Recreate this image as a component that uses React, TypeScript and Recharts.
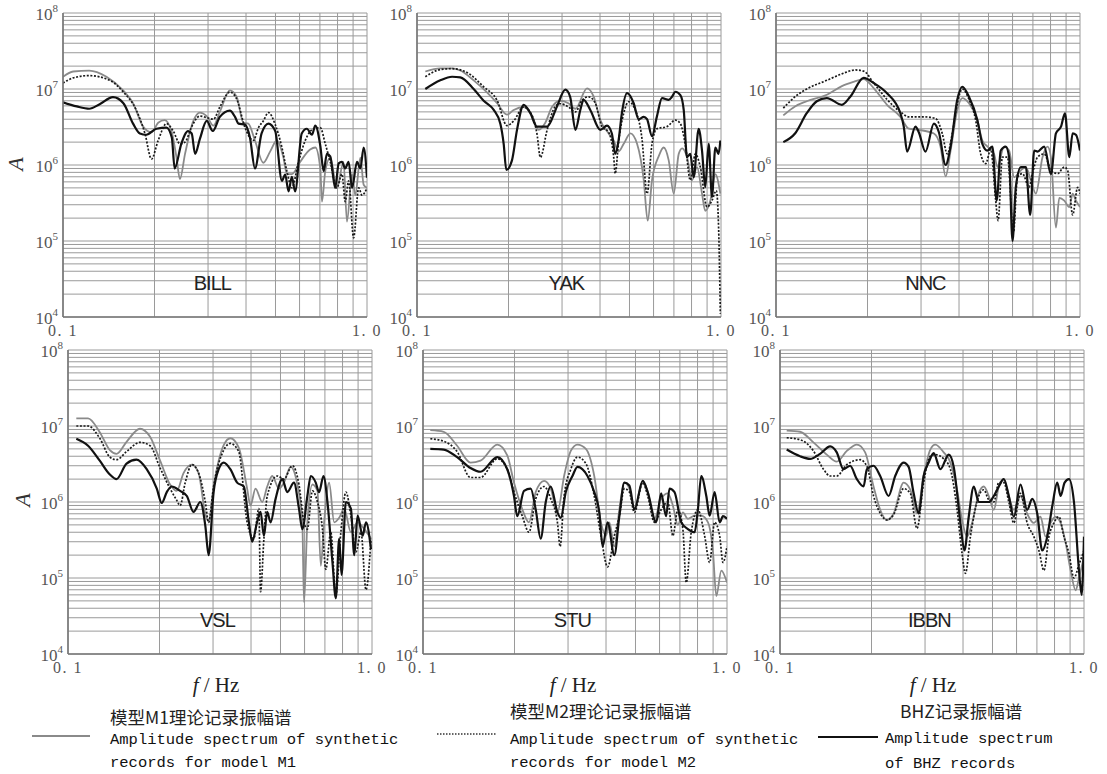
import React from 'react';
import { LineChart, Line, XAxis, YAxis, CartesianGrid, ReferenceDot } from 'recharts';

type Pt = [number, number];

// ---------- axis values ----------
const X_TICKS = [0.1, 0.2, 0.3, 0.4, 0.5, 0.6, 0.7, 0.8, 0.9, 1.0];
const MANTISSAS = [1, 2, 3, 4, 5, 6, 7, 8, 9];
const DECADES = [1e4, 1e5, 1e6, 1e7];
const Y_TICKS = [...DECADES.flatMap((d) => MANTISSAS.map((m) => m * d)), 1e8];
const X_DOMAIN: [number, number] = [0.1, 1.0];
const Y_DOMAIN: [number, number] = [1e4, 1e8];

// ---------- series: [frequency Hz, amplitude] ----------
const BILL_M1: Pt[] = [[0.1,1.45e7],[0.108,1.7e7],[0.122,1.75e7],[0.139,1.45e7],[0.158,9.5e6],[0.17,6.5e6],[0.1835,3.2e6],[0.1955,2.7e6],[0.2056,3.6e6],[0.216,3.9e6],[0.228,2.7e6],[0.2363,1.25e6],[0.2425,6.5e5],[0.252,1.4e6],[0.2684,3.8e6],[0.282,4.9e6],[0.297,4.4e6],[0.3125,3.3e6],[0.328,5.0e6],[0.354,9.6e6],[0.3726,7.9e6],[0.392,3.6e6],[0.407,3.5e6],[0.428,2.1e6],[0.456,1.07e6],[0.48,1.5e6],[0.505,2.1e6],[0.531,1.25e6],[0.545,7.6e5],[0.566,7.6e5],[0.6025,1.1e6],[0.65,1.6e6],[0.676,1.7e6],[0.702,9.0e5],[0.711,3.3e5],[0.729,8.3e5],[0.757,1.25e6],[0.796,5.0e5],[0.8375,1.1e6],[0.859,1.8e5],[0.893,7.6e5],[0.915,4.0e5],[0.951,1.25e6],[0.975,5.5e5],[1.0,5.0e5]];
const BILL_M2: Pt[] = [[0.1,1.2e7],[0.108,1.4e7],[0.122,1.5e7],[0.1425,1.3e7],[0.158,9.1e6],[0.1745,5.2e6],[0.186,2.6e6],[0.1955,1.2e6],[0.2056,2.1e6],[0.219,3.5e6],[0.2305,2.8e6],[0.2425,1.9e6],[0.252,2.0e6],[0.265,3.2e6],[0.282,4.4e6],[0.297,4.2e6],[0.3125,4.0e6],[0.328,5.8e6],[0.354,9.1e6],[0.3726,7.4e6],[0.397,3.1e6],[0.423,2.1e6],[0.4395,3.1e6],[0.456,3.8e6],[0.474,4.9e6],[0.499,3.4e6],[0.525,1.7e6],[0.545,8.3e5],[0.566,5.0e5],[0.5952,1.1e6],[0.6264,2.1e6],[0.667,3.0e6],[0.702,3.1e6],[0.729,1.9e6],[0.757,1.1e6],[0.796,5.0e5],[0.827,7.6e5],[0.848,3.3e5],[0.87,6.2e5],[0.9035,1.1e5],[0.939,5.0e5],[0.963,4.0e5],[1.0,5.0e5]];
const BILL_BHZ: Pt[] = [[0.1,6.7e6],[0.111,5.9e6],[0.122,5.5e6],[0.132,6.3e6],[0.146,7.8e6],[0.158,6.5e6],[0.17,3.5e6],[0.179,2.6e6],[0.188,2.5e6],[0.203,3.0e6],[0.219,3.1e6],[0.228,2.3e6],[0.233,9.0e5],[0.245,1.9e6],[0.258,2.8e6],[0.265,2.6e6],[0.272,1.4e6],[0.282,2.2e6],[0.297,3.8e6],[0.311,2.8e6],[0.328,4.3e6],[0.354,5.2e6],[0.368,4.3e6],[0.378,3.5e6],[0.397,3.4e6],[0.412,2.3e6],[0.428,9.0e5],[0.45,2.6e6],[0.474,3.5e6],[0.499,2.8e6],[0.525,6.2e5],[0.538,7.5e5],[0.552,4.5e5],[0.566,7.0e5],[0.58,4.5e5],[0.61,2.6e6],[0.634,3.0e6],[0.659,2.5e6],[0.676,3.3e6],[0.702,1.8e6],[0.72,8.3e5],[0.738,1.4e6],[0.757,1.3e6],[0.786,5.0e5],[0.807,1.05e6],[0.827,1.1e6],[0.848,9.0e5],[0.87,1.1e6],[0.893,5.0e5],[0.927,1.1e6],[0.951,9.0e5],[0.975,1.7e6],[1.0,6.8e5]];

const YAK_M1: Pt[] = [[0.1065,1.7e7],[0.1193,1.87e7],[0.1304,1.87e7],[0.1388,1.75e7],[0.1536,1.3e7],[0.1699,9.0e6],[0.1834,6.5e6],[0.1977,4.6e6],[0.208,5.3e6],[0.2243,5.8e6],[0.2389,4.5e6],[0.2512,2.9e6],[0.2643,3.6e6],[0.278,5.8e6],[0.296,7.0e6],[0.3148,6.5e6],[0.332,5.5e6],[0.3625,1.02e7],[0.381,8.0e6],[0.4009,3.9e6],[0.427,2.6e6],[0.4436,2.1e6],[0.4603,1.5e6],[0.4786,1.9e6],[0.5035,2.6e6],[0.5295,1.9e6],[0.557,6.3e5],[0.574,1.85e5],[0.593,6.3e5],[0.6237,1.3e6],[0.6476,1.7e6],[0.673,1.15e6],[0.699,4.2e5],[0.726,1.4e6],[0.745,1.65e6],[0.773,1.27e6],[0.803,6.3e5],[0.834,9.4e5],[0.866,4.2e5],[0.8875,2.5e5],[0.9226,3.4e5],[0.958,7.6e5],[0.995,4.2e5]];
const YAK_M2: Pt[] = [[0.1065,1.45e7],[0.1193,1.8e7],[0.1304,1.85e7],[0.146,1.65e7],[0.1657,1.07e7],[0.1834,7.1e6],[0.1977,3.3e6],[0.208,3.8e6],[0.2243,5.8e6],[0.2389,4.5e6],[0.248,2.6e6],[0.2546,1.26e6],[0.268,2.9e6],[0.285,5.9e6],[0.296,6.4e6],[0.3148,5.8e6],[0.332,5.0e6],[0.349,7.1e6],[0.367,7.9e6],[0.386,6.5e6],[0.406,3.2e6],[0.427,2.7e6],[0.4436,1.27e6],[0.4487,7.7e5],[0.4603,2.0e6],[0.4786,4.8e6],[0.497,6.8e6],[0.5225,5.3e6],[0.5497,2.2e6],[0.571,4.2e5],[0.593,1.9e6],[0.615,3.0e6],[0.664,3.2e6],[0.708,3.9e6],[0.735,3.5e6],[0.764,1.8e6],[0.7925,6.3e5],[0.8235,1.4e6],[0.855,9.4e5],[0.8995,2.8e5],[0.934,3.4e5],[0.965,4.6e5],[0.982,1.5e5],[0.995,1.1e4]];
const YAK_BHZ: Pt[] = [[0.1065,1.0e7],[0.1193,1.3e7],[0.1304,1.45e7],[0.1388,1.42e7],[0.1536,1.0e7],[0.1657,7.0e6],[0.1788,5.3e6],[0.188,3.5e6],[0.1928,1.9e6],[0.1967,8.6e5],[0.2053,1.15e6],[0.2133,2.9e6],[0.2243,6.2e6],[0.236,4.8e6],[0.248,3.2e6],[0.268,3.2e6],[0.2887,5.9e6],[0.3076,9.8e6],[0.319,7.9e6],[0.332,2.9e6],[0.3445,5.3e6],[0.3532,7.2e6],[0.3716,5.3e6],[0.4009,2.9e6],[0.4217,3.3e6],[0.4375,2.6e6],[0.4487,1.4e6],[0.4603,2.1e6],[0.472,4.8e6],[0.491,8.8e6],[0.516,6.5e6],[0.536,4.0e6],[0.557,4.3e6],[0.571,4.0e6],[0.593,2.4e6],[0.615,4.3e6],[0.6397,7.6e6],[0.673,7.2e6],[0.69,7.9e6],[0.708,9.2e6],[0.735,8.3e6],[0.754,5.3e6],[0.773,1.27e6],[0.7925,1.4e6],[0.813,6.9e5],[0.8444,3.0e6],[0.866,1.55e6],[0.8875,5.1e5],[0.911,1.9e6],[0.934,3.8e5],[0.958,1.7e6],[0.9818,1.4e6],[0.995,2.1e6]];

const NNC_M1: Pt[] = [[0.1057,4.5e6],[0.1155,5.9e6],[0.1262,6.9e6],[0.147,8.4e6],[0.1647,1.09e7],[0.18,1.24e7],[0.1942,1.35e7],[0.2095,1.03e7],[0.2318,6.2e6],[0.2566,4.3e6],[0.2734,3.0e6],[0.2949,2.9e6],[0.3306,2.6e6],[0.3476,1.75e6],[0.3613,7.1e5],[0.3753,1.55e6],[0.3947,5.3e6],[0.4101,7.6e6],[0.4313,6.5e6],[0.4595,3.9e6],[0.4773,2.1e6],[0.4958,1.75e6],[0.5214,1.4e6],[0.535,9.4e5],[0.5627,1.75e6],[0.5846,1.55e6],[0.6072,6.9e5],[0.6388,8.5e5],[0.6635,9.4e5],[0.6892,6.3e5],[0.7158,4.2e5],[0.753,1.27e6],[0.7822,1.75e6],[0.8023,1.27e6],[0.8333,1.5e5],[0.8549,3.7e5],[0.8879,3.4e5],[0.9222,2.8e5],[0.9458,4.2e5],[0.97,3.4e5],[1.0,2.8e5]];
const NNC_M2: Pt[] = [[0.1057,5.6e6],[0.1155,7.9e6],[0.1262,1.0e7],[0.147,1.3e7],[0.1647,1.58e7],[0.1823,1.78e7],[0.1942,1.72e7],[0.2095,1.2e7],[0.2318,7.3e6],[0.2566,5.0e6],[0.2734,4.3e6],[0.3063,4.3e6],[0.3348,4.1e6],[0.3523,2.6e6],[0.3659,1.4e6],[0.3801,2.6e6],[0.3947,6.4e6],[0.4101,1.0e7],[0.4313,7.3e6],[0.4537,3.9e6],[0.4713,1.4e6],[0.4895,1.04e6],[0.5085,1.6e6],[0.5281,3.4e5],[0.5376,1.85e5],[0.5555,1.27e6],[0.5773,1.27e6],[0.6041,1.3e5],[0.6227,6.9e5],[0.6468,7.7e5],[0.6803,5.1e5],[0.6977,7.7e5],[0.7251,1.27e6],[0.7627,1.4e6],[0.8023,8.5e5],[0.844,7.7e5],[0.8879,9.4e5],[0.9105,8.5e5],[0.9458,2.2e5],[0.9824,5.1e5],[1.0,4.2e5]];
const NNC_BHZ: Pt[] = [[0.1057,2.0e6],[0.1155,2.6e6],[0.1262,4.8e6],[0.1362,6.9e6],[0.147,7.6e6],[0.1647,6.2e6],[0.1755,7.9e6],[0.1942,1.4e7],[0.2095,1.2e7],[0.2318,8.8e6],[0.2566,4.8e6],[0.2632,3.2e6],[0.27,1.5e6],[0.2876,3.2e6],[0.2949,2.7e6],[0.3102,1.5e6],[0.3306,3.5e6],[0.3434,2.7e6],[0.3613,1.0e6],[0.3753,1.75e6],[0.3947,7.2e6],[0.4101,1.07e7],[0.4313,7.9e6],[0.4595,3.9e6],[0.4773,1.9e6],[0.4958,1.55e6],[0.5149,1.75e6],[0.532,3.4e5],[0.5486,1.55e6],[0.57,1.75e6],[0.5846,1.27e6],[0.5996,1.0e5],[0.615,5.1e5],[0.6388,9.4e5],[0.6635,9.4e5],[0.6857,2.2e5],[0.7069,1.55e6],[0.7251,1.5e6],[0.7627,1.75e6],[0.8023,7.6e5],[0.8333,2.6e6],[0.8658,3.2e6],[0.8924,4.8e6],[0.9222,1.27e6],[0.9458,2.6e6],[0.97,2.5e6],[1.0,1.55e6]];

const VSL_M1: Pt[] = [[0.1065,1.26e7],[0.1164,1.26e7],[0.1272,8.3e6],[0.1373,4.8e6],[0.1444,4.3e6],[0.1558,6.2e6],[0.1725,9.2e6],[0.1862,7.2e6],[0.2009,3.5e6],[0.2167,1.7e6],[0.228,1.4e6],[0.2399,2.4e6],[0.2556,3.1e6],[0.2689,2.4e6],[0.2829,7.0e5],[0.2901,5.5e5],[0.3013,1.6e6],[0.3252,5.6e6],[0.342,6.9e6],[0.3645,5.2e6],[0.3884,1.5e6],[0.3984,9.0e5],[0.4138,1.5e6],[0.4353,1.0e6],[0.4522,1.6e6],[0.4697,2.2e6],[0.4941,1.5e6],[0.5132,1.8e6],[0.5399,2.9e6],[0.5679,1.7e6],[0.59,5.4e5],[0.5975,4.8e4],[0.6129,5.4e5],[0.6368,1.7e6],[0.6615,1.4e6],[0.6785,1.45e5],[0.6959,5.4e5],[0.7228,1.8e6],[0.7508,5.4e5],[0.7799,6.2e5],[0.8101,8.2e5],[0.8522,4.0e5],[0.8967,5.4e5],[0.9434,4.4e5],[0.9924,3.3e5]];
const VSL_M2: Pt[] = [[0.1065,1.0e7],[0.1164,1.0e7],[0.1272,6.9e6],[0.1373,3.9e6],[0.1444,3.6e6],[0.1558,4.6e6],[0.1725,6.1e6],[0.1862,5.5e6],[0.2009,2.8e6],[0.2167,1.5e6],[0.228,1.05e6],[0.2338,9.0e5],[0.243,1.8e6],[0.2556,3.1e6],[0.2689,2.4e6],[0.2829,1.0e6],[0.2901,5.4e5],[0.3013,1.6e6],[0.3252,4.8e6],[0.342,5.9e6],[0.3645,4.6e6],[0.3884,5.4e5],[0.4085,3.3e5],[0.4244,8.2e5],[0.4299,6.6e4],[0.441,3.3e5],[0.4522,1.2e6],[0.4879,2.2e6],[0.5132,2.0e6],[0.547,3.0e6],[0.5751,1.7e6],[0.5975,5.4e5],[0.6129,4.4e5],[0.6368,1.4e6],[0.6615,1.0e6],[0.6871,4.4e5],[0.7047,1.3e5],[0.7319,4.0e5],[0.7603,6.0e4],[0.7899,4.0e5],[0.8206,1.35e6],[0.8522,6.6e5],[0.8855,2.2e5],[0.9198,4.0e5],[0.9555,7.0e4],[0.9924,3.3e5]];
const VSL_BHZ: Pt[] = [[0.1065,6.8e6],[0.1164,5.5e6],[0.1272,3.5e6],[0.1373,2.3e6],[0.1444,2.0e6],[0.1558,3.2e6],[0.1679,3.6e6],[0.1815,2.7e6],[0.1959,1.5e6],[0.2034,9.7e5],[0.2113,1.35e6],[0.2194,1.6e6],[0.2338,1.4e6],[0.246,1.2e6],[0.2588,7.4e5],[0.2723,1.0e6],[0.2829,4.9e5],[0.2901,2.0e5],[0.3013,1.35e6],[0.3131,2.7e6],[0.3252,3.3e6],[0.342,2.7e6],[0.36,1.8e6],[0.3787,1.6e6],[0.3933,5.5e5],[0.4034,3.0e5],[0.4191,5.5e5],[0.4299,7.4e5],[0.441,3.6e5],[0.4522,7.4e5],[0.4638,5.4e5],[0.4818,1.1e6],[0.5068,2.0e6],[0.5264,1.35e6],[0.5538,1.8e6],[0.5751,8.2e5],[0.59,4.4e5],[0.6129,1.2e6],[0.6289,2.2e6],[0.6531,1.8e6],[0.6699,1.35e6],[0.6925,2.2e6],[0.7137,1.0e6],[0.7413,1.6e5],[0.7603,5.4e4],[0.7799,3.3e5],[0.794,1.1e5],[0.8206,1.0e6],[0.8522,8.2e5],[0.8744,2.0e5],[0.8967,6.6e5],[0.9315,3.6e5],[0.9555,5.4e5],[0.9924,2.4e5]];

const STU_M1: Pt[] = [[0.1057,8.8e6],[0.117,8.4e6],[0.1295,5.5e6],[0.1433,3.3e6],[0.1546,3.5e6],[0.1755,5.7e6],[0.1893,4.1e6],[0.1992,1.8e6],[0.2122,8.0e5],[0.2232,5.4e5],[0.2348,1.35e6],[0.2502,1.9e6],[0.2632,1.5e6],[0.2768,7.3e5],[0.2912,2.2e6],[0.3063,4.7e6],[0.3222,5.7e6],[0.3434,5.0e6],[0.3659,2.2e6],[0.3849,5.4e5],[0.3998,3.6e5],[0.4101,5.4e5],[0.426,2.6e5],[0.4425,8.0e5],[0.4595,1.8e6],[0.4773,1.5e6],[0.4958,8.0e5],[0.5283,1.9e6],[0.5486,1.35e6],[0.5773,6.0e5],[0.6072,1.1e6],[0.6388,1.3e6],[0.6635,9.0e5],[0.6892,5.0e5],[0.7158,7.3e5],[0.7437,6.0e5],[0.7822,6.6e5],[0.8227,6.6e5],[0.8658,5.4e5],[0.8993,2.2e5],[0.9222,5.8e4],[0.9579,1.25e5],[1.0,8.7e4]];
const STU_M2: Pt[] = [[0.1057,6.8e6],[0.117,6.3e6],[0.1295,4.6e6],[0.1433,2.1e6],[0.1546,2.1e6],[0.1755,3.7e6],[0.1893,2.7e6],[0.1992,1.35e6],[0.2122,6.5e5],[0.2232,4.0e5],[0.2348,1.1e6],[0.2502,1.6e6],[0.2632,1.1e6],[0.2768,5.4e5],[0.2825,2.6e5],[0.2912,1.2e6],[0.3063,2.7e6],[0.3222,3.9e6],[0.3434,3.2e6],[0.3659,1.2e6],[0.3849,3.6e5],[0.4048,1.4e5],[0.426,3.6e5],[0.4425,6.5e5],[0.4595,1.5e6],[0.4773,1.35e6],[0.4958,7.3e5],[0.5283,1.8e6],[0.5486,1.2e6],[0.5773,5.4e5],[0.6072,7.9e5],[0.6388,1.0e6],[0.6635,3.6e5],[0.6892,7.9e5],[0.7158,4.4e5],[0.7344,8.7e4],[0.7627,4.0e5],[0.8023,7.9e5],[0.844,3.6e5],[0.8766,1.6e5],[0.9105,5.4e5],[0.9458,3.6e5],[0.97,1.6e5],[1.0,2.6e5]];
const STU_BHZ: Pt[] = [[0.1057,5.0e6],[0.117,4.9e6],[0.1295,3.9e6],[0.1433,2.8e6],[0.1546,2.5e6],[0.1755,3.9e6],[0.1893,2.7e6],[0.1992,1.2e6],[0.2042,6.5e5],[0.2149,1.4e6],[0.2261,1.5e6],[0.2348,8.0e5],[0.2439,3.3e5],[0.2534,1.0e6],[0.2632,1.6e6],[0.2768,7.3e5],[0.2839,6.2e5],[0.2949,1.35e6],[0.3102,2.2e6],[0.3222,2.9e6],[0.3476,2.2e6],[0.3659,1.35e6],[0.3801,7.3e5],[0.3899,2.6e5],[0.4048,5.4e5],[0.426,2.0e5],[0.4425,6.5e5],[0.4595,1.8e6],[0.4773,1.65e6],[0.4958,8.0e5],[0.5283,1.9e6],[0.5486,1.35e6],[0.5846,5.4e5],[0.6072,1.3e6],[0.6306,6.5e5],[0.6468,1.5e6],[0.672,1.35e6],[0.7069,5.4e5],[0.7437,4.4e5],[0.7822,4.0e5],[0.8023,8.0e5],[0.8227,2.2e6],[0.8549,1.2e6],[0.8766,6.6e5],[0.9105,1.35e6],[0.9458,5.4e5],[0.97,6.5e5],[1.0,6.0e5]];

const IBBN_M1: Pt[] = [[0.1052,8.7e6],[0.1164,8.4e6],[0.1288,6.1e6],[0.1425,4.2e6],[0.1537,3.4e6],[0.1659,4.7e6],[0.179,5.7e6],[0.1906,4.5e6],[0.2031,1.6e6],[0.2136,7.9e5],[0.2246,5.8e5],[0.2363,7.0e5],[0.2551,1.8e6],[0.2683,1.45e6],[0.2822,7.1e5],[0.2968,2.2e6],[0.3122,4.9e6],[0.3243,5.7e6],[0.3455,4.5e6],[0.3634,3.3e6],[0.3823,1.45e6],[0.3971,5.8e5],[0.4125,3.5e5],[0.4285,5.3e5],[0.4507,1.3e6],[0.4681,1.6e6],[0.4862,1.2e6],[0.505,7.9e5],[0.5245,1.6e6],[0.5448,2.0e6],[0.5658,1.2e6],[0.5877,7.9e5],[0.6182,1.2e6],[0.6502,7.0e5],[0.684,5.3e5],[0.7194,6.4e5],[0.7474,3.5e5],[0.7764,5.3e5],[0.8064,6.4e5],[0.8377,5.3e5],[0.8701,2.9e5],[0.9036,1.26e5],[0.9386,6.9e4],[0.9627,1.0e5],[1.0,1.9e5]];
const IBBN_M2: Pt[] = [[0.1052,7.0e6],[0.1164,6.6e6],[0.1288,4.7e6],[0.139,2.7e6],[0.1462,2.2e6],[0.1537,2.2e6],[0.1659,3.1e6],[0.1836,3.6e6],[0.1931,2.95e6],[0.2031,1.2e6],[0.2136,7.1e5],[0.2246,5.8e5],[0.2363,6.8e5],[0.2551,1.5e6],[0.2683,1.3e6],[0.2822,4.5e5],[0.2968,1.8e6],[0.3122,4.0e6],[0.3243,4.2e6],[0.3455,3.7e6],[0.3634,2.7e6],[0.3823,8.0e5],[0.3971,2.1e5],[0.4073,1.15e5],[0.423,3.5e5],[0.4507,1.2e6],[0.4681,1.45e6],[0.4862,1.07e6],[0.505,1.0e6],[0.5245,1.8e6],[0.5448,1.8e6],[0.5658,1.0e6],[0.5877,5.3e5],[0.6182,1.3e6],[0.6502,5.3e5],[0.684,3.5e5],[0.7106,2.3e5],[0.7382,1.26e5],[0.7666,3.5e5],[0.7962,5.3e5],[0.827,6.4e5],[0.8589,3.5e5],[0.8924,2.1e5],[0.9268,1.0e5],[0.9627,1.5e5],[1.0,2.3e5]];
const IBBN_BHZ: Pt[] = [[0.1052,4.9e6],[0.1164,4.0e6],[0.1256,3.7e6],[0.1355,4.3e6],[0.1462,5.4e6],[0.1537,4.5e6],[0.1617,2.7e6],[0.1701,3.0e6],[0.179,2.0e6],[0.1883,1.6e6],[0.1931,2.7e6],[0.2031,3.0e6],[0.2136,2.2e6],[0.2276,1.2e6],[0.2393,2.2e6],[0.2551,3.3e6],[0.2649,2.9e6],[0.2752,1.3e6],[0.2858,7.1e5],[0.2968,2.2e6],[0.3083,3.3e6],[0.3202,4.4e6],[0.337,2.7e6],[0.3589,4.2e6],[0.3728,2.9e6],[0.3921,5.3e5],[0.4042,2.3e5],[0.4177,6.4e5],[0.434,1.6e6],[0.4507,1.0e6],[0.4681,1.0e6],[0.4862,1.0e6],[0.505,1.2e6],[0.5245,1.6e6],[0.5448,2.0e6],[0.5658,1.2e6],[0.5877,6.4e5],[0.6182,1.7e6],[0.6502,7.9e5],[0.6755,1.1e6],[0.7019,7.0e5],[0.7288,2.3e5],[0.757,3.5e5],[0.7863,8.8e5],[0.8166,1.8e6],[0.8377,1.2e6],[0.8635,1.8e6],[0.8924,2.0e6],[0.9268,1.0e6],[0.9627,1.26e5],[0.9824,6.0e4],[1.0,3.5e5]];

const STATIONS = ['BILL', 'YAK', 'NNC', 'VSL', 'STU', 'IBBN'];
const SERIES: Record<string, { m1: Pt[]; m2: Pt[]; bhz: Pt[] }> = {
  BILL: { m1: BILL_M1, m2: BILL_M2, bhz: BILL_BHZ },
  YAK: { m1: YAK_M1, m2: YAK_M2, bhz: YAK_BHZ },
  NNC: { m1: NNC_M1, m2: NNC_M2, bhz: NNC_BHZ },
  VSL: { m1: VSL_M1, m2: VSL_M2, bhz: VSL_BHZ },
  STU: { m1: STU_M1, m2: STU_M2, bhz: STU_BHZ },
  IBBN: { m1: IBBN_M1, m2: IBBN_M2, bhz: IBBN_BHZ },
};

const LEGEND_ZH = ['模型M1理论记录振幅谱', '模型M2理论记录振幅谱', 'BHZ记录振幅谱'];
const LEGEND_EN = [
  ['Amplitude spectrum of synthetic', 'records for model M1'],
  ['Amplitude spectrum of synthetic', 'records for model M2'],
  ['Amplitude spectrum', 'of BHZ records'],
];

// ---------- layout ----------
const PLOT_W = 304;
const PLOT_H = 304;
const Y_AXIS_W = 50;
const M_TOP = 10;
const M_RIGHT = 20;
const X_AXIS_H = 28;
const PANEL_POS: Record<string, { left: number; top: number }> = {
  BILL: { left: 63, top: 13 },
  YAK: { left: 417, top: 13 },
  NNC: { left: 776, top: 13 },
  VSL: { left: 68, top: 350 },
  STU: { left: 423, top: 350 },
  IBBN: { left: 780, top: 350 },
};

const SERIF = '"Liberation Serif", "Times New Roman", serif';
const MONO = '"Liberation Mono", "DejaVu Sans Mono", monospace';
const CJK = '"Noto Sans CJK SC", sans-serif';

const isDecade = (v: number) => Math.abs(Math.log10(v) - Math.round(Math.log10(v))) < 1e-6;

const YTick = (props: any) => {
  const { x, y, payload } = props;
  const v = payload?.value;
  if (!isDecade(v)) return null;
  const exp = Math.round(Math.log10(v));
  return (
    <text x={x + 3} y={y + 7} textAnchor="end" fontFamily={SERIF} fontSize={17} fill="#555">
      10
      <tspan dy={-8} fontSize={11}>
        {exp}
      </tspan>
    </text>
  );
};

const XTick = (props: any) => {
  const { x, y, payload } = props;
  const v = payload?.value;
  let label = '';
  if (Math.abs(v - 0.1) < 1e-9) label = '0. 1';
  else if (Math.abs(v - 1) < 1e-9) label = '1. 0';
  if (!label) return null;
  return (
    <text x={x} y={y + 11} textAnchor="middle" fontFamily={SERIF} fontSize={16} letterSpacing={1.5} fill="#555" xmlSpace="preserve">
      {label}
    </text>
  );
};

const StationLabel = (props: any) => {
  const vb = props.viewBox || {};
  const cx = (vb.x ?? 0) + (vb.width ?? 0) / 2;
  const cy = (vb.y ?? 0) + (vb.height ?? 0) / 2;
  return (
    <text
      x={cx}
      y={cy}
      textAnchor="middle"
      dominantBaseline="central"
      fontFamily='"Liberation Sans", Arial, sans-serif'
      fontSize={20}
      letterSpacing={-1}
      fill="#222"
    >
      {props.name}
    </text>
  );
};

function Panel({ name }: { name: string }) {
  const pos = PANEL_POS[name];
  const s = SERIES[name];
  const toData = (pts: Pt[]) => pts.map(([f, a]) => ({ f, a }));
  return (
    <div style={{ position: 'absolute', left: pos.left - Y_AXIS_W, top: pos.top - M_TOP }}>
      <LineChart
        width={Y_AXIS_W + PLOT_W + M_RIGHT}
        height={M_TOP + PLOT_H + X_AXIS_H}
        margin={{ top: M_TOP, right: M_RIGHT, bottom: 0, left: 0 }}
      >
        <CartesianGrid stroke="#9a9a9a" strokeWidth={1} />
        <XAxis
          dataKey="f"
          type="number"
          scale="log"
          domain={X_DOMAIN}
          ticks={X_TICKS}
          interval={0}
          allowDataOverflow
          tickLine={false}
          axisLine={{ stroke: '#777', strokeWidth: 1.6 }}
          height={X_AXIS_H}
          tick={<XTick />}
        />
        <YAxis
          dataKey="a"
          type="number"
          scale="log"
          domain={Y_DOMAIN}
          ticks={Y_TICKS}
          interval={0}
          allowDataOverflow
          tickLine={false}
          axisLine={{ stroke: '#777', strokeWidth: 1.6 }}
          width={Y_AXIS_W}
          tick={<YTick />}
        />
        <Line data={toData(s.m1)} dataKey="a" type="monotone" stroke="#8a8a8a" strokeWidth={1.8} dot={false} isAnimationActive={false} />
        <Line data={toData(s.m2)} dataKey="a" type="monotone" stroke="#1a1a1a" strokeWidth={1.7} strokeDasharray="2 1.6" dot={false} isAnimationActive={false} />
        <Line data={toData(s.bhz)} dataKey="a" type="monotone" stroke="#111" strokeWidth={2.2} dot={false} isAnimationActive={false} />
        <ReferenceDot x={0.31} y={2.8e4} r={1} fill="none" stroke="none" label={<StationLabel name={name} />} />
      </LineChart>
    </div>
  );
}

export default function App() {
  const fhzX = [216, 573, 933];
  const legendLineX = [32, 437, 818];
  const legendTextX = [110, 510, 885];
  const zhX = [110, 510, 900];
  const zhY = [724, 718, 718];
  const enY = [[744, 767], [744, 767], [743, 768]];
  return (
    <div style={{ position: 'absolute', left: 0, top: 0, width: 1107, height: 774, background: '#fff', overflow: 'hidden' }}>
      {STATIONS.map((n) => (
        <Panel key={n} name={n} />
      ))}
      <svg width={1107} height={774} style={{ position: 'absolute', left: 0, top: 0, pointerEvents: 'none' }}>
        <text transform="translate(23,164) rotate(-90)" textAnchor="middle" fontFamily={SERIF} fontStyle="italic" fontSize={22} fill="#333">A</text>
        <text transform="translate(30,500) rotate(-90)" textAnchor="middle" fontFamily={SERIF} fontStyle="italic" fontSize={22} fill="#333">A</text>
        {fhzX.map((x, i) => (
          <text key={i} x={x} y={692} textAnchor="middle" fontFamily={SERIF} fontSize={21} fill="#222">
            <tspan fontStyle="italic">f</tspan> / Hz
          </text>
        ))}
        <line x1={legendLineX[0]} x2={legendLineX[0] + 58} y1={736} y2={736} stroke="#8a8a8a" strokeWidth={2} />
        <line x1={legendLineX[1]} x2={legendLineX[1] + 60} y1={734} y2={734} stroke="#333" strokeWidth={1.4} strokeDasharray="1.5 1.5" />
        <line x1={legendLineX[2]} x2={legendLineX[2] + 60} y1={737} y2={737} stroke="#111" strokeWidth={2.2} />
        {LEGEND_ZH.map((t, i) => (
          <text key={'zh' + i} x={zhX[i]} y={zhY[i]} fontFamily={CJK} fontSize={17.5} fill="#222">
            {t}
          </text>
        ))}
        {LEGEND_EN.map((rows, i) =>
          rows.map((t, j) => (
            <text key={'en' + i + j} x={legendTextX[i]} y={enY[i][j]} fontFamily={MONO} fontSize={15.5} fill="#111" xmlSpace="preserve">
              {t}
            </text>
          ))
        )}
      </svg>
    </div>
  );
}
